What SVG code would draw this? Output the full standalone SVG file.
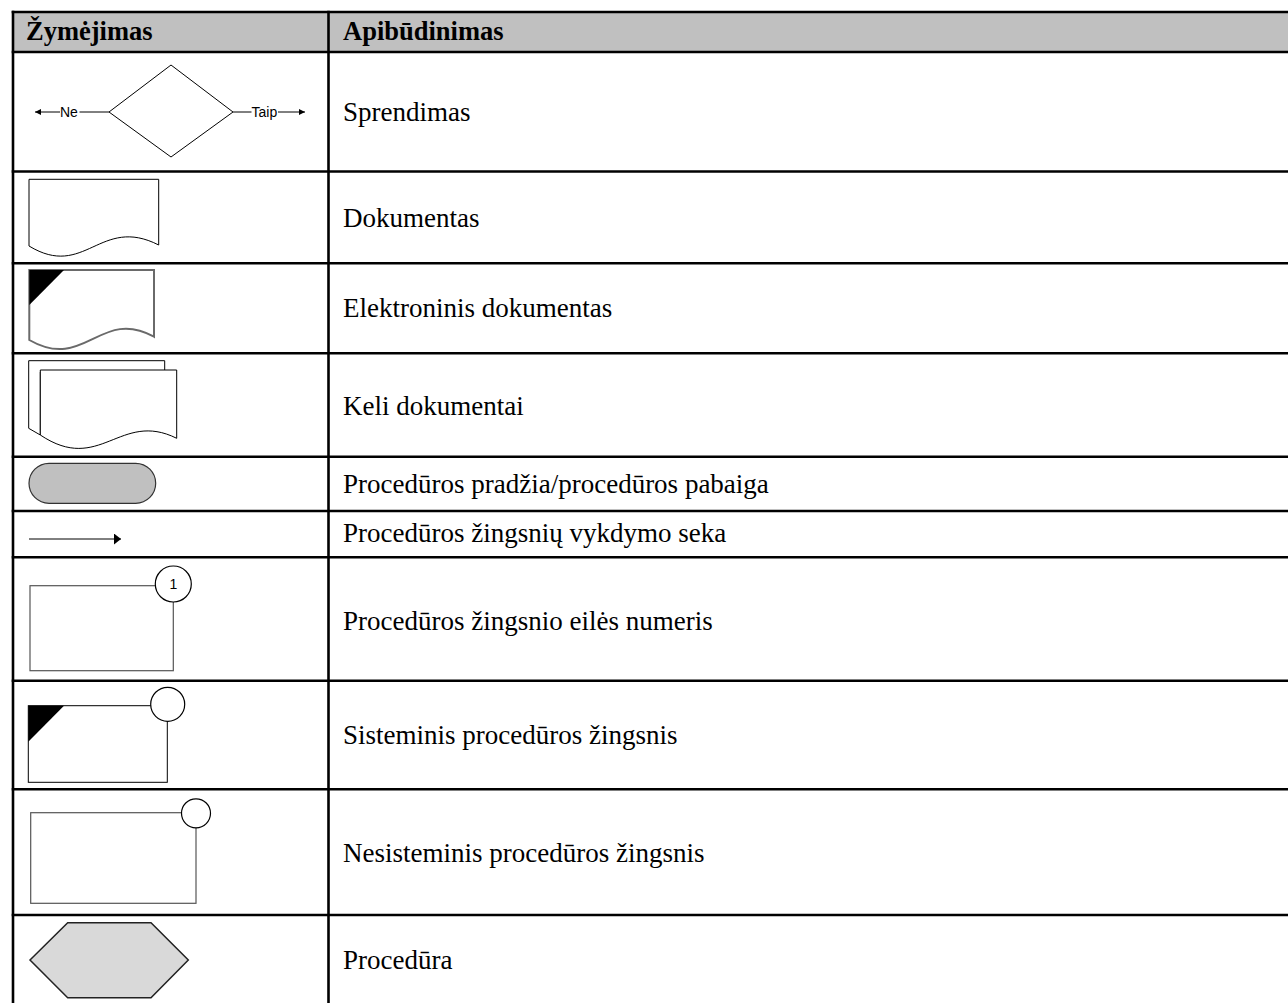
<svg xmlns="http://www.w3.org/2000/svg" width="1288" height="1003" viewBox="0 0 1288 1003">
<defs>
<style>
.grid{stroke:#000;stroke-width:2.6;fill:none}
.txt{font-family:"Liberation Serif","Times New Roman",serif;font-size:27px;fill:#000}
.hd{font-family:"Liberation Serif","Times New Roman",serif;font-size:26.5px;font-weight:bold;fill:#000}
.sm{font-family:"Liberation Sans",Arial,sans-serif;font-size:14px;fill:#000}
.thin{fill:#fff;stroke:#000;stroke-width:1}
.ln{stroke:#000;stroke-width:1;fill:none}
.step{fill:#fff;stroke:#555;stroke-width:1.2}
.circ{fill:#fff;stroke:#000;stroke-width:1.2}
</style>
<marker id="ah" viewBox="0 0 6 6" refX="6" refY="3" markerWidth="6" markerHeight="6" markerUnits="userSpaceOnUse" orient="auto">
<path d="M0,0 L6,3 L0,6 Z" fill="#000"/>
</marker>
<marker id="ahL" viewBox="0 0 7 11" refX="7" refY="5.5" markerWidth="7" markerHeight="11" markerUnits="userSpaceOnUse" orient="auto">
<path d="M0,0 L7,5.5 L0,11 Z" fill="#000"/>
</marker>
</defs>
<rect width="1288" height="1003" fill="#fff"/>
<g id="table">
<rect x="13" y="12" width="1280" height="40" fill="#c0c0c0"/>
<line class="grid" x1="11.7" y1="12" x2="1290" y2="12"/>
<line class="grid" x1="11.7" y1="52" x2="1290" y2="52"/>
<line class="grid" x1="11.7" y1="171.5" x2="1290" y2="171.5"/>
<line class="grid" x1="11.7" y1="263.3" x2="1290" y2="263.3"/>
<line class="grid" x1="11.7" y1="353.3" x2="1290" y2="353.3"/>
<line class="grid" x1="11.7" y1="456.7" x2="1290" y2="456.7"/>
<line class="grid" x1="11.7" y1="511" x2="1290" y2="511"/>
<line class="grid" x1="11.7" y1="557.3" x2="1290" y2="557.3"/>
<line class="grid" x1="11.7" y1="680.7" x2="1290" y2="680.7"/>
<line class="grid" x1="11.7" y1="789.3" x2="1290" y2="789.3"/>
<line class="grid" x1="11.7" y1="915" x2="1290" y2="915"/>
<line class="grid" x1="13" y1="10.7" x2="13" y2="1005"/>
<line class="grid" x1="328.5" y1="10.7" x2="328.5" y2="1005"/>
<text class="hd" x="26" y="40">Žymėjimas</text>
<text class="hd" x="343" y="40">Apibūdinimas</text>
<text class="txt" x="343" y="120.5">Sprendimas</text>
<text class="txt" x="343" y="227.3">Dokumentas</text>
<text class="txt" x="343" y="317.3">Elektroninis dokumentas</text>
<text class="txt" x="343" y="415">Keli dokumentai</text>
<text class="txt" x="343" y="493.3">Procedūros pradžia/procedūros pabaiga</text>
<text class="txt" x="343" y="541.7">Procedūros žingsnių vykdymo seka</text>
<text class="txt" x="343" y="630">Procedūros žingsnio eilės numeris</text>
<text class="txt" x="343" y="744">Sisteminis procedūros žingsnis</text>
<text class="txt" x="343" y="861.7">Nesisteminis procedūros žingsnis</text>
<text class="txt" x="343" y="969.3">Procedūra</text>
</g>
<g id="decision">
<polygon class="thin" points="109,112 171,65 233,112 171,157"/>
<text class="sm" x="60" y="117">Ne</text>
<text class="sm" x="251.5" y="117">Taip</text>
</g>
<g id="document">
<path class="thin" d="M29,179.3 H158.7 V245 C100,215 85,280 29,246 Z"/>
</g>
<g id="electronic-document">
<path d="M29.3,270 H154 V336.7 C100,307 85,372 29.3,340 Z" fill="#fff" stroke="#6a6a6a" stroke-width="2"/>
<path d="M29.3,270 H64 L29.3,305 Z" fill="#000"/>
</g>
<g id="multi-document">
<path class="thin" d="M28.7,360.7 H164.7 V372 H40.3 V435 L28.7,428.3 Z"/>
<path class="thin" d="M40.3,370 H176.7 V438.3 C120,410 100,475 40.3,435 Z"/>
</g>
<g id="terminator">
<rect x="29" y="463.3" width="126.7" height="40" rx="20" ry="20" fill="#c0c0c0" stroke="#333" stroke-width="1.2"/>
</g>
<g id="numbered-step">
<rect class="step" x="30" y="585.7" width="143.3" height="85"/>
<circle class="circ" cx="173.3" cy="584" r="18"/>
<text class="sm" x="173.3" y="589" text-anchor="middle">1</text>
</g>
<g id="system-step">
<rect x="28.3" y="705.7" width="139" height="76.6" fill="#fff" stroke="#000" stroke-width="1"/>
<path d="M28.3,705.7 H64 L28.3,741.7 Z" fill="#000"/>
<circle class="circ" cx="167.7" cy="704.3" r="17"/>
</g>
<g id="nonsystem-step">
<rect class="step" x="30.7" y="812.7" width="165.3" height="90.6"/>
<circle class="circ" cx="196" cy="813.3" r="14.5"/>
</g>
<g id="procedure">
<polygon points="30,960 67.7,922.7 151,922.7 188.3,960 151,997.7 67.7,997.7" fill="#d9d9d9" stroke="#222" stroke-width="1.5"/>
</g>
<g id="connectors">
<line class="ln" x1="60" y1="112" x2="35" y2="112" marker-end="url(#ah)"/>
<line class="ln" x1="79.5" y1="112" x2="109" y2="112"/>
<line class="ln" x1="233" y1="112" x2="251.5" y2="112"/>
<line class="ln" x1="278" y1="112" x2="305" y2="112" marker-end="url(#ah)"/>
<line class="ln" x1="29" y1="539" x2="121" y2="539" marker-end="url(#ahL)"/>
</g>
</svg>
